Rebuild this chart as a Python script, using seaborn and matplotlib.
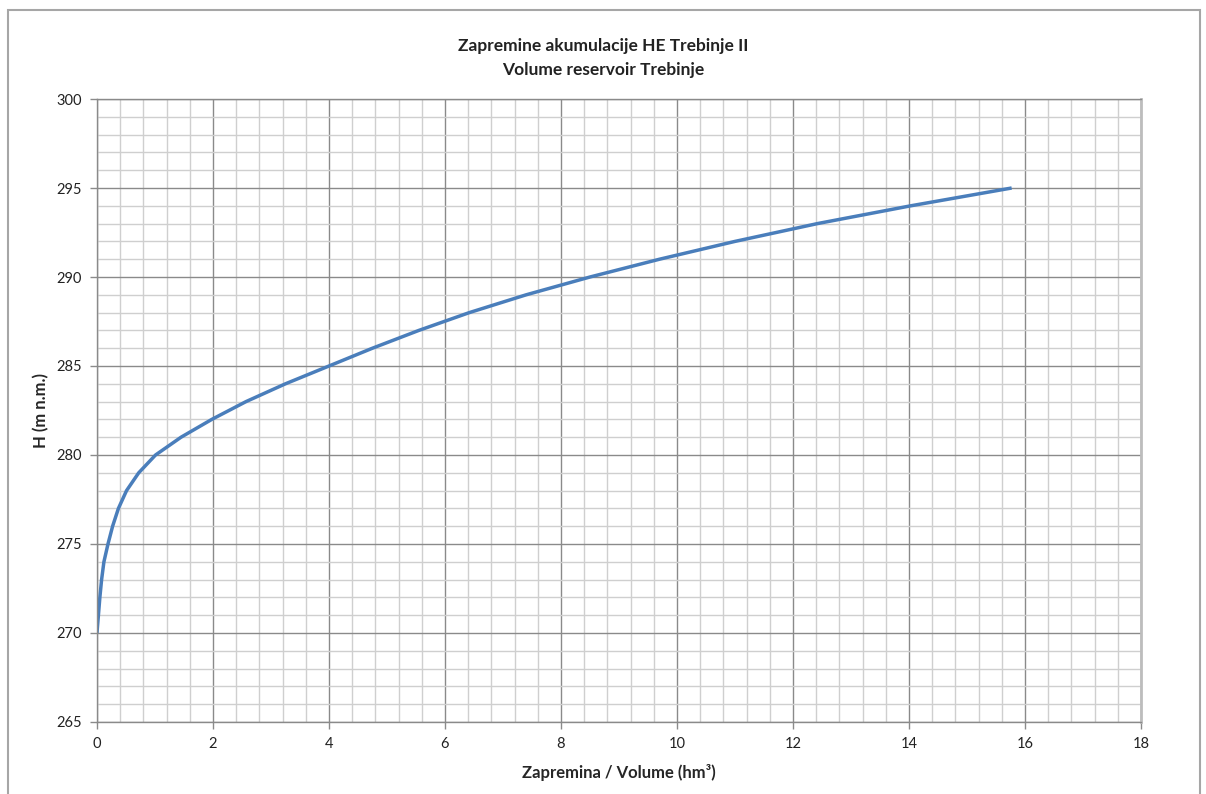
import numpy as np
import pandas as pd
import matplotlib
matplotlib.use('Agg')
import matplotlib.pyplot as plt
from matplotlib.ticker import MultipleLocator
from matplotlib.patches import Rectangle
import seaborn as sns

# reservoir level (m a.s.l.) and volume (hm3)
height = [270, 271, 272, 273, 274, 275, 276, 277, 278, 279, 280, 281, 282,
          283, 284, 285, 286, 287, 288, 289, 290, 291, 292, 293, 294, 295]
volume = [0.0, 0.025, 0.05, 0.08, 0.12, 0.19, 0.27, 0.37, 0.51, 0.72, 1.01, 1.45, 1.98,
          2.57, 3.25, 4.0, 4.75, 5.55, 6.42, 7.4, 8.5, 9.7, 11.0, 12.42, 14.03, 15.77]

df = pd.DataFrame({'V': volume, 'H': height})

sns.set_style('white')
plt.rcParams['font.family'] = ['Lato', 'DejaVu Sans']

fig = plt.figure(figsize=(12.06, 7.94), dpi=100)
ax = fig.add_axes([0.0804, 0.0907, 0.8657, 0.7846])

sns.lineplot(
	data=df, x='V', y='H',
	sort=False, estimator=None,
	color='#4a7ebb', linewidth=2.5,
	solid_joinstyle='round', solid_capstyle='butt',
	ax=ax,
)

ax.set(xlim=(0, 18), ylim=(265, 300))
ax.xaxis.set_major_locator(MultipleLocator(2))
ax.xaxis.set_minor_locator(MultipleLocator(0.4))
ax.yaxis.set_major_locator(MultipleLocator(5))
ax.yaxis.set_minor_locator(MultipleLocator(1))

ax.grid(which='major', color='#8a8a8a', linewidth=1.0)
ax.grid(which='minor', color='#cfcfcf', linewidth=1.0)
ax.set_axisbelow(True)

for side in ['left', 'bottom', 'right', 'top']:
	ax.spines[side].set_color('#8a8a8a')
	ax.spines[side].set_linewidth(1.0)
ax.spines['right'].set_color('#bdbdbd')
ax.spines['right'].set_linewidth(2)

ax.tick_params(which='major', direction='out', length=5, width=1,
	color='#8a8a8a', labelsize=10.5, labelcolor='#222222', pad=6,
	left=True, bottom=True)
ax.tick_params(which='minor', length=0)

ax.set_xlabel('Zapremina / Volume (hm³)', fontsize=12, fontweight='bold', labelpad=9)
ax.set_ylabel('H (m n.m.)', fontsize=12, fontweight='bold', labelpad=5)

fig.text(0.5, 1 - 46/794, 'Zapremine akumulacije HE Trebinje II',
	ha='center', va='center', fontsize=12.5, fontweight='bold', color='#222222')
fig.text(0.5, 1 - 70/794, 'Volume reservoir Trebinje',
	ha='center', va='center', fontsize=12.5, fontweight='bold', color='#222222')

# outer chart frame
fig.patches.append(Rectangle(
	(8/1206, -0.05), 1192/1206, 1.05 - 10/794,
	transform=fig.transFigure, fill=False,
	edgecolor='#a6a6a6', linewidth=1.5,
))

fig.savefig('out.png', dpi=100)
